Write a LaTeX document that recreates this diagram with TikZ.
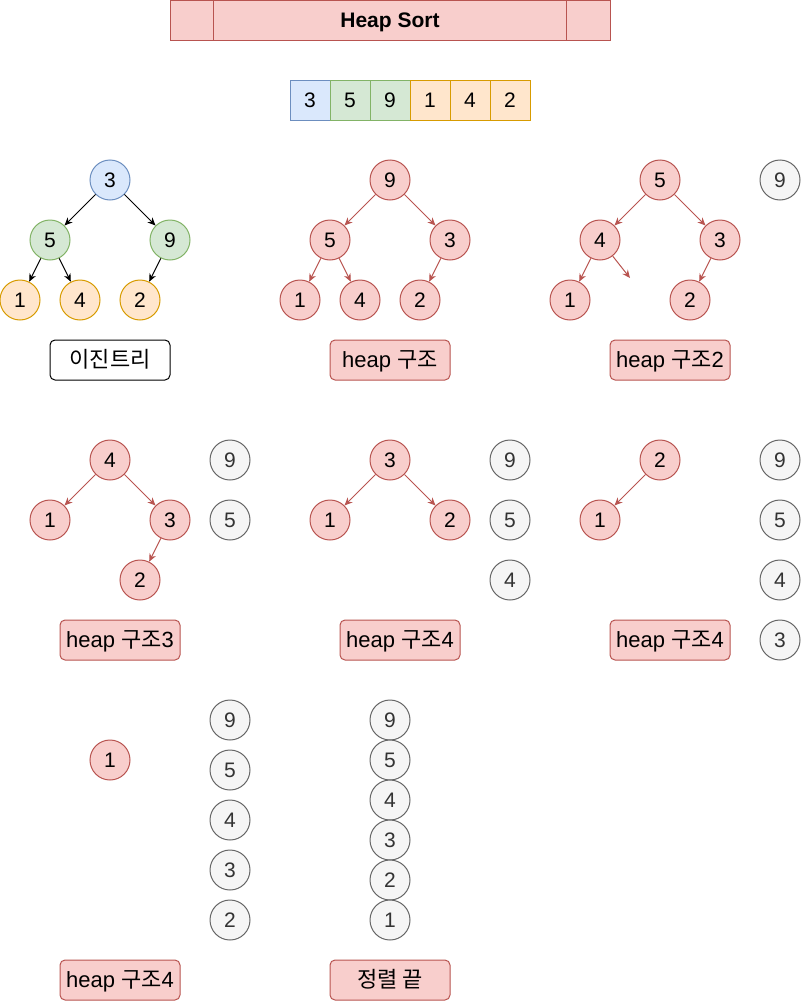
\documentclass[tikz,border=0pt]{standalone}
\usepackage{fontspec}
\setmainfont{Liberation Sans}
\newfontfamily\kr{Noto Sans CJK KR}
\usetikzlibrary{arrows.meta}
\definecolor{redfill}{HTML}{F8CECC}
\definecolor{redline}{HTML}{B85450}
\definecolor{bluefill}{HTML}{DAE8FC}
\definecolor{blueline}{HTML}{6C8EBF}
\definecolor{greenfill}{HTML}{D5E8D4}
\definecolor{greenline}{HTML}{82B366}
\definecolor{orangefill}{HTML}{FFE6CC}
\definecolor{orangeline}{HTML}{D79B00}
\definecolor{grayfill}{HTML}{F5F5F5}
\definecolor{grayline}{HTML}{666666}

\begin{document}
\begin{tikzpicture}[
        x=1pt, y=-1pt,
        line width=1pt,
        every node/.append style={black, font=\fontsize{21}{25}\selectfont},
        key/.style={circle, minimum size=40pt, inner sep=0pt},
        bluekey/.style={key, draw=blueline, fill=bluefill},
        greenkey/.style={key, draw=greenline, fill=greenfill},
        orangekey/.style={key, draw=orangeline, fill=orangefill},
        redkey/.style={key, draw=redline, fill=redfill},
        graykey/.style={key, draw=grayline, fill=grayfill, text=black!80},
        cell/.style={rectangle, minimum size=40pt, inner sep=0pt},
        caption/.style={rectangle, rounded corners=5pt, minimum width=120pt,
            minimum height=40pt, inner sep=0pt, draw=redline, fill=redfill,
            text depth=0pt, text height=15pt,
            font=\fontsize{22}{26}\selectfont},
        blackarr/.style={-{Stealth[length=8pt,width=7pt]}, black},
        redarr/.style={-{Stealth[length=8pt,width=7pt]}, redline}
    ]
    \useasboundingbox (0,0) rectangle (801,1001);

    % title
    \node [rectangle, draw=redline, fill=redfill, minimum width=440pt,
        minimum height=40pt, inner sep=0pt, text depth=0pt,
        font=\fontsize{21}{25}\selectfont\bfseries] (title) at (390,20) {Heap Sort};
    \draw [redline] ([xshift=44pt]title.north west) -- ([xshift=44pt]title.south west);
    \draw [redline] ([xshift=-44pt]title.north east) -- ([xshift=-44pt]title.south east);

    % array
    \foreach \val/\fc/\lc [count=\i] in {3/bluefill/blueline, 5/greenfill/greenline,
            9/greenfill/greenline, 1/orangefill/orangeline,
            4/orangefill/orangeline, 2/orangefill/orangeline}
        \node [cell, draw=\lc, fill=\fc] (cell\i) at (270+40*\i,100) {\val};

    % binary tree
    \node [bluekey] (a3) at (110,180) {3};
    \node [greenkey] (a5) at (50,240) {5};
    \node [greenkey] (a9) at (170,240) {9};
    \node [orangekey] (a1) at (20,300) {1};
    \node [orangekey] (a4) at (80,300) {4};
    \node [orangekey] (a2) at (140,300) {2};
    \draw [blackarr] (a3) -- (a5);
    \draw [blackarr] (a3) -- (a9);
    \draw [blackarr] (a5) -- (a1);
    \draw [blackarr] (a5) -- (a4);
    \draw [blackarr] (a9) -- (a2);
    \node [caption, draw=black, fill=white] (capa) at (110,360) {\kr 이진트리};

    % heap
    \node [redkey] (b9) at (390,180) {9};
    \node [redkey] (b5) at (330,240) {5};
    \node [redkey] (b3) at (450,240) {3};
    \node [redkey] (b1) at (300,300) {1};
    \node [redkey] (b4) at (360,300) {4};
    \node [redkey] (b2) at (420,300) {2};
    \draw [redarr] (b9) -- (b5);
    \draw [redarr] (b9) -- (b3);
    \draw [redarr] (b5) -- (b1);
    \draw [redarr] (b5) -- (b4);
    \draw [redarr] (b3) -- (b2);
    \node [caption] (capb) at (390,360) {heap {\kr 구조}};

    % heap 2
    \node [redkey] (c5) at (660,180) {5};
    \node [redkey] (c4) at (600,240) {4};
    \node [redkey] (c3) at (720,240) {3};
    \node [redkey] (c1) at (570,300) {1};
    \node [redkey] (c2) at (690,300) {2};
    \coordinate (cfree) at (630,278);
    \draw [redarr] (c5) -- (c4);
    \draw [redarr] (c5) -- (c3);
    \draw [redarr] (c4) -- (c1);
    \draw [redarr] (c4) -- (cfree);
    \draw [redarr] (c3) -- (c2);
    \node [graykey] (cs9) at (780,180) {9};
    \node [caption] (capc) at (670,360) {heap {\kr 구조}2};

    % heap 3
    \node [redkey] (d4) at (110,460) {4};
    \node [redkey] (d1) at (50,520) {1};
    \node [redkey] (d3) at (170,520) {3};
    \node [redkey] (d2) at (140,580) {2};
    \draw [redarr] (d4) -- (d1);
    \draw [redarr] (d4) -- (d3);
    \draw [redarr] (d3) -- (d2);
    \node [graykey] (ds9) at (230,460) {9};
    \node [graykey] (ds5) at (230,520) {5};
    \node [caption] (capd) at (120,640) {heap {\kr 구조}3};

    % heap 4
    \node [redkey] (e3) at (390,460) {3};
    \node [redkey] (e1) at (330,520) {1};
    \node [redkey] (e2) at (450,520) {2};
    \draw [redarr] (e3) -- (e1);
    \draw [redarr] (e3) -- (e2);
    \foreach \val [count=\i] in {9,5,4}
        \node [graykey] (es\val) at (510,400+60*\i) {\val};
    \node [caption] (cape) at (400,640) {heap {\kr 구조}4};

    % heap 5
    \node [redkey] (f2) at (660,460) {2};
    \node [redkey] (f1) at (600,520) {1};
    \draw [redarr] (f2) -- (f1);
    \foreach \val [count=\i] in {9,5,4,3}
        \node [graykey] (fs\val) at (780,400+60*\i) {\val};
    \node [caption] (capf) at (670,640) {heap {\kr 구조}4};

    % heap 6
    \node [redkey] (g1) at (110,760) {1};
    \foreach \val [count=\i] in {9,5,4,3,2}
        \node [graykey] (gs\val) at (230,670+50*\i) {\val};
    \node [caption] (capg) at (120,980) {heap {\kr 구조}4};

    % sorted
    \foreach \val [count=\i] in {9,5,4,3,2,1}
        \node [graykey] (hs\val) at (390,680+40*\i) {\val};
    \node [caption] (caph) at (390,980) {\kr 정렬 끝};
\end{tikzpicture}
\end{document}
